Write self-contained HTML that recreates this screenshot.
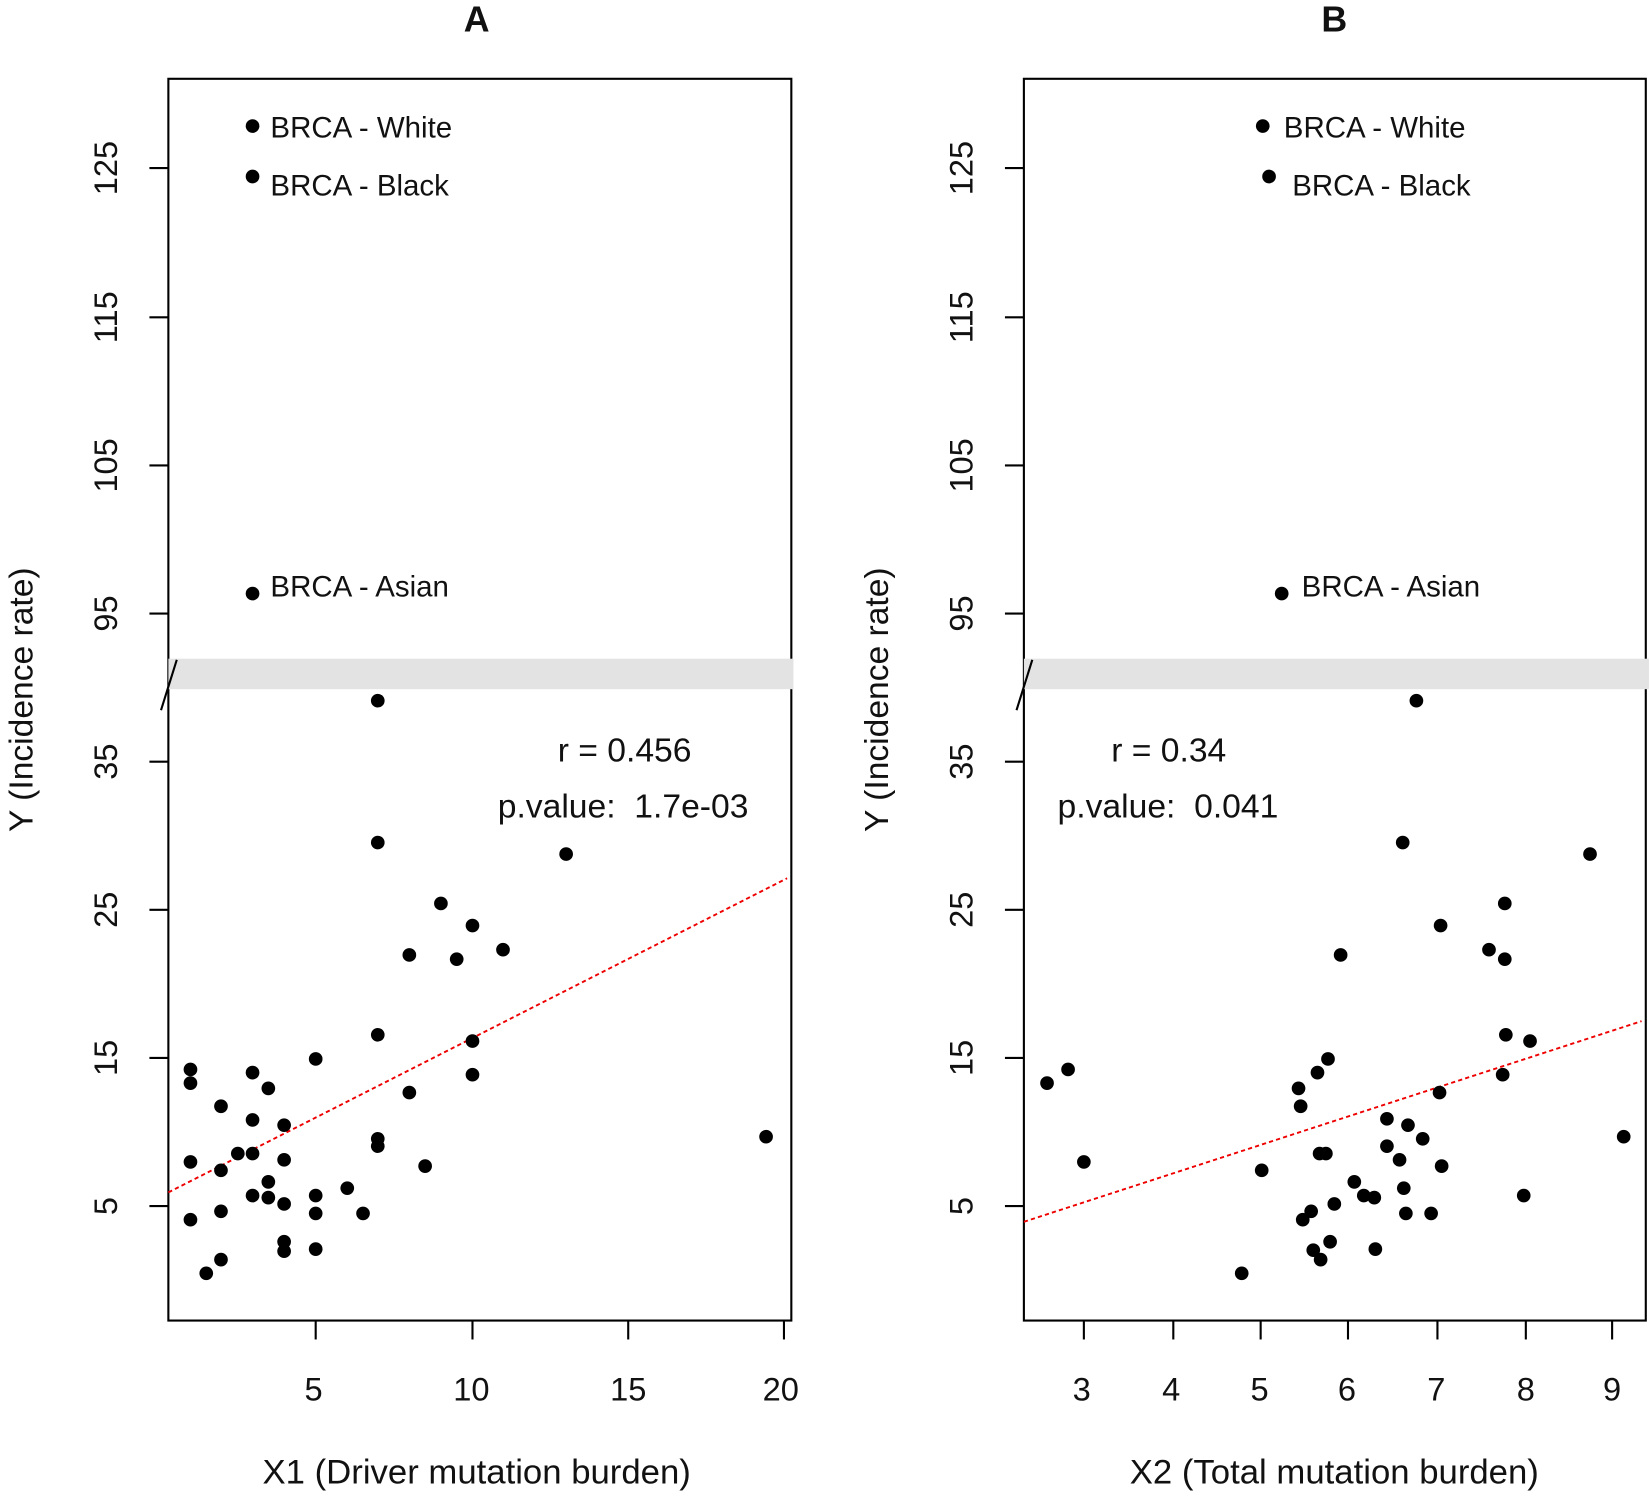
<!DOCTYPE html>
<html><head><style>html,body{margin:0;padding:0;background:#fff}svg{display:block}</style></head><body>
<svg width="1650" height="1496" viewBox="0 0 1568 1424" preserveAspectRatio="none" xmlns="http://www.w3.org/2000/svg" font-family="Liberation Sans, Arial, sans-serif">
<rect width="1568" height="1424" fill="#fff"/>
<g font-size="31" fill="#111">
<!-- Panel A -->
<text x="453" y="30" font-size="34" font-weight="bold" text-anchor="middle">A</text>
<rect x="160" y="75" width="592" height="1182" fill="none" stroke="#000" stroke-width="2"/>
<rect x="160" y="627" width="594" height="29" fill="#e3e3e3"/>
<line x1="153" y1="676" x2="168" y2="628" stroke="#000" stroke-width="2"/>
<g stroke="#000" stroke-width="2">
<line x1="300" y1="1257" x2="300" y2="1275"/><line x1="449" y1="1257" x2="449" y2="1275"/><line x1="597" y1="1257" x2="597" y2="1275"/><line x1="745" y1="1257" x2="745" y2="1275"/>
<line x1="142" y1="160" x2="160" y2="160"/><line x1="142" y1="302" x2="160" y2="302"/><line x1="142" y1="443" x2="160" y2="443"/><line x1="142" y1="584" x2="160" y2="584"/>
<line x1="142" y1="725" x2="160" y2="725"/><line x1="142" y1="866" x2="160" y2="866"/><line x1="142" y1="1007" x2="160" y2="1007"/><line x1="142" y1="1148" x2="160" y2="1148"/>
</g>
<g text-anchor="middle"><text x="298" y="1333">5</text><text x="448" y="1333">10</text><text x="597" y="1333">15</text><text x="742" y="1333">20</text></g>
<g text-anchor="middle">
<text transform="translate(111,160) rotate(-90)">125</text><text transform="translate(111,302) rotate(-90)">115</text><text transform="translate(111,443) rotate(-90)">105</text><text transform="translate(111,584) rotate(-90)">95</text>
<text transform="translate(111,725) rotate(-90)">35</text><text transform="translate(111,866) rotate(-90)">25</text><text transform="translate(111,1007) rotate(-90)">15</text><text transform="translate(111,1148) rotate(-90)">5</text>
<text transform="translate(31,666) rotate(-90)" font-size="32">Y (Incidence rate)</text>
</g>
<text x="453" y="1412" text-anchor="middle" font-size="33">X1 (Driver mutation burden)</text>
<text x="530" y="725" font-size="32">r = 0.456</text>
<text x="473" y="778" font-size="32" xml:space="preserve">p.value:  1.7e-03</text>
<g font-size="28"><text x="257" y="131">BRCA - White</text><text x="257" y="186">BRCA - Black</text><text x="257" y="568">BRCA - Asian</text></g>
<line x1="160" y1="1135" x2="748" y2="836" stroke="#e00" stroke-width="1.8" stroke-dasharray="4,3"/>
<g fill="#000">
<circle cx="240" cy="120" r="6.5"/><circle cx="240" cy="168" r="6.5"/><circle cx="240" cy="565" r="6.5"/>
<circle cx="181" cy="1018" r="6.5"/><circle cx="181" cy="1031" r="6.5"/><circle cx="181" cy="1106" r="6.5"/><circle cx="181" cy="1161" r="6.5"/><circle cx="196" cy="1212" r="6.5"/><circle cx="210" cy="1053" r="6.5"/><circle cx="210" cy="1114" r="6.5"/><circle cx="210" cy="1153" r="6.5"/><circle cx="210" cy="1199" r="6.5"/><circle cx="226" cy="1098" r="6.5"/><circle cx="240" cy="1021" r="6.5"/><circle cx="240" cy="1066" r="6.5"/><circle cx="240" cy="1098" r="6.5"/><circle cx="240" cy="1138" r="6.5"/><circle cx="255" cy="1036" r="6.5"/><circle cx="255" cy="1125" r="6.5"/><circle cx="255" cy="1140" r="6.5"/><circle cx="270" cy="1071" r="6.5"/><circle cx="270" cy="1104" r="6.5"/><circle cx="270" cy="1146" r="6.5"/><circle cx="270" cy="1182" r="6.5"/><circle cx="270" cy="1191" r="6.5"/><circle cx="300" cy="1008" r="6.5"/><circle cx="300" cy="1138" r="6.5"/><circle cx="300" cy="1155" r="6.5"/><circle cx="300" cy="1189" r="6.5"/><circle cx="330" cy="1131" r="6.5"/><circle cx="345" cy="1155" r="6.5"/><circle cx="359" cy="667" r="6.5"/><circle cx="359" cy="802" r="6.5"/><circle cx="359" cy="985" r="6.5"/><circle cx="359" cy="1084" r="6.5"/><circle cx="359" cy="1091" r="6.5"/><circle cx="389" cy="909" r="6.5"/><circle cx="389" cy="1040" r="6.5"/><circle cx="404" cy="1110" r="6.5"/><circle cx="419" cy="860" r="6.5"/><circle cx="434" cy="913" r="6.5"/><circle cx="449" cy="881" r="6.5"/><circle cx="449" cy="991" r="6.5"/><circle cx="449" cy="1023" r="6.5"/><circle cx="478" cy="904" r="6.5"/><circle cx="538" cy="813" r="6.5"/><circle cx="728" cy="1082" r="6.5"/>
</g>
<!-- Panel B -->
<text x="1268" y="30" font-size="34" font-weight="bold" text-anchor="middle">B</text>
<rect x="973" y="75" width="591" height="1182" fill="none" stroke="#000" stroke-width="2"/>
<rect x="973" y="627" width="594" height="29" fill="#e3e3e3"/>
<line x1="966" y1="676" x2="981" y2="628" stroke="#000" stroke-width="2"/>
<g stroke="#000" stroke-width="2">
<line x1="1030" y1="1257" x2="1030" y2="1275"/><line x1="1115" y1="1257" x2="1115" y2="1275"/><line x1="1198" y1="1257" x2="1198" y2="1275"/><line x1="1281" y1="1257" x2="1281" y2="1275"/><line x1="1366" y1="1257" x2="1366" y2="1275"/><line x1="1450" y1="1257" x2="1450" y2="1275"/><line x1="1532" y1="1257" x2="1532" y2="1275"/>
<line x1="955" y1="160" x2="973" y2="160"/><line x1="955" y1="302" x2="973" y2="302"/><line x1="955" y1="443" x2="973" y2="443"/><line x1="955" y1="584" x2="973" y2="584"/>
<line x1="955" y1="725" x2="973" y2="725"/><line x1="955" y1="866" x2="973" y2="866"/><line x1="955" y1="1007" x2="973" y2="1007"/><line x1="955" y1="1148" x2="973" y2="1148"/>
</g>
<g text-anchor="middle"><text x="1028" y="1333">3</text><text x="1113" y="1333">4</text><text x="1197" y="1333">5</text><text x="1280" y="1333">6</text><text x="1365" y="1333">7</text><text x="1450" y="1333">8</text><text x="1532" y="1333">9</text></g>
<g text-anchor="middle">
<text transform="translate(924,160) rotate(-90)">125</text><text transform="translate(924,302) rotate(-90)">115</text><text transform="translate(924,443) rotate(-90)">105</text><text transform="translate(924,584) rotate(-90)">95</text>
<text transform="translate(924,725) rotate(-90)">35</text><text transform="translate(924,866) rotate(-90)">25</text><text transform="translate(924,1007) rotate(-90)">15</text><text transform="translate(924,1148) rotate(-90)">5</text>
<text transform="translate(844,666) rotate(-90)" font-size="32">Y (Incidence rate)</text>
</g>
<text x="1268" y="1412" text-anchor="middle" font-size="33">X2 (Total mutation burden)</text>
<text x="1056" y="725" font-size="32">r = 0.34</text>
<text x="1005" y="778" font-size="32" xml:space="preserve">p.value:  0.041</text>
<g font-size="28"><text x="1220" y="131">BRCA - White</text><text x="1228" y="186">BRCA - Black</text><text x="1237" y="568">BRCA - Asian</text></g>
<line x1="973" y1="1163" x2="1560" y2="972" stroke="#e00" stroke-width="1.8" stroke-dasharray="4,3"/>
<g fill="#000">
<circle cx="1200" cy="120" r="6.5"/><circle cx="1206" cy="168" r="6.5"/><circle cx="1218" cy="565" r="6.5"/>
<circle cx="995" cy="1031" r="6.5"/><circle cx="1015" cy="1018" r="6.5"/><circle cx="1030" cy="1106" r="6.5"/><circle cx="1180" cy="1212" r="6.5"/><circle cx="1199" cy="1114" r="6.5"/><circle cx="1234" cy="1036" r="6.5"/><circle cx="1236" cy="1053" r="6.5"/><circle cx="1238" cy="1161" r="6.5"/><circle cx="1246" cy="1153" r="6.5"/><circle cx="1248" cy="1190" r="6.5"/><circle cx="1252" cy="1021" r="6.5"/><circle cx="1254" cy="1098" r="6.5"/><circle cx="1255" cy="1199" r="6.5"/><circle cx="1260" cy="1098" r="6.5"/><circle cx="1262" cy="1008" r="6.5"/><circle cx="1264" cy="1182" r="6.5"/><circle cx="1268" cy="1146" r="6.5"/><circle cx="1274" cy="909" r="6.5"/><circle cx="1287" cy="1125" r="6.5"/><circle cx="1296" cy="1138" r="6.5"/><circle cx="1306" cy="1140" r="6.5"/><circle cx="1307" cy="1189" r="6.5"/><circle cx="1318" cy="1065" r="6.5"/><circle cx="1318" cy="1091" r="6.5"/><circle cx="1330" cy="1104" r="6.5"/><circle cx="1333" cy="802" r="6.5"/><circle cx="1334" cy="1131" r="6.5"/><circle cx="1336" cy="1155" r="6.5"/><circle cx="1338" cy="1071" r="6.5"/><circle cx="1346" cy="667" r="6.5"/><circle cx="1352" cy="1084" r="6.5"/><circle cx="1360" cy="1155" r="6.5"/><circle cx="1368" cy="1040" r="6.5"/><circle cx="1369" cy="881" r="6.5"/><circle cx="1370" cy="1110" r="6.5"/><circle cx="1415" cy="904" r="6.5"/><circle cx="1428" cy="1023" r="6.5"/><circle cx="1430" cy="860" r="6.5"/><circle cx="1430" cy="913" r="6.5"/><circle cx="1431" cy="985" r="6.5"/><circle cx="1448" cy="1138" r="6.5"/><circle cx="1454" cy="991" r="6.5"/><circle cx="1511" cy="813" r="6.5"/><circle cx="1543" cy="1082" r="6.5"/>
</g>
</g>
</svg>
</body></html>
